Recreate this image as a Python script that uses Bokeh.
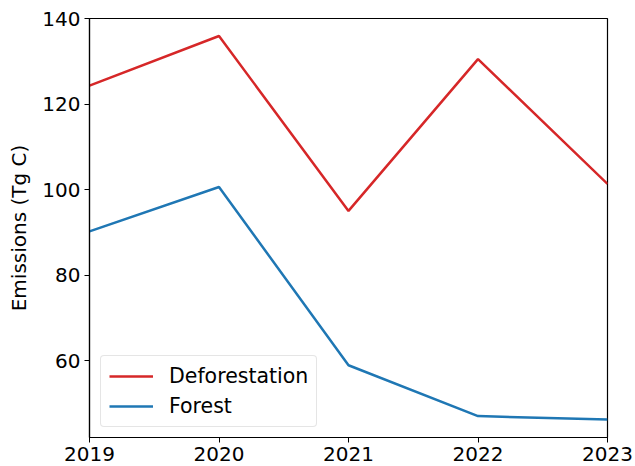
from bokeh.plotting import figure
from bokeh.models import Range1d, FixedTicker, Legend, LegendItem
from bokeh.embed import file_html
from bokeh.resources import INLINE

years = [2019, 2020, 2021, 2022, 2023]
deforestation = [124.3, 135.9, 95.0, 130.5, 101.3]
forest = [90.2, 100.6, 58.9, 47.0, 46.2]
y_ticks = [60, 80, 100, 120, 140]

FONT = "DejaVu Sans"

p = figure(width=635, height=466, output_backend="svg", toolbar_location=None,
           x_range=Range1d(2019, 2023), y_range=Range1d(42, 140),
           min_border_left=89, min_border_right=28, min_border_top=18, min_border_bottom=29)

p.grid.visible = False
p.background_fill_color = "white"
p.border_fill_color = "white"
p.outline_line_color = "black"
p.outline_line_width = 1.2

r1 = p.line(years, deforestation, line_color="#d62728", line_width=2.5)
r2 = p.line(years, forest, line_color="#1f77b4", line_width=2.5)

for ax in (p.xaxis[0], p.yaxis[0]):
    ax.major_label_text_font = FONT
    ax.major_label_text_font_size = "20px"
    ax.major_label_text_color = "black"
    ax.axis_line_color = "black"
    ax.axis_line_width = 1.2
    ax.major_tick_line_color = "black"
    ax.major_tick_out = 5
    ax.major_tick_in = 0
    ax.minor_tick_line_color = None
    ax.major_label_standoff = 4

p.xaxis.ticker = FixedTicker(ticks=years)
p.yaxis.ticker = FixedTicker(ticks=y_ticks)
p.yaxis.axis_label = "Emissions (Tg C)"
p.yaxis.axis_label_text_font = FONT
p.yaxis.axis_label_text_font_size = "20px"
p.yaxis.axis_label_text_font_style = "normal"
p.yaxis.axis_label_text_color = "black"
p.yaxis.axis_label_standoff = 8

legend = Legend(items=[LegendItem(label="Deforestation", renderers=[r1]),
                       LegendItem(label="Forest", renderers=[r2])],
                location=(11, 10))
legend.label_text_font = FONT
legend.label_text_font_size = "20.5px"
legend.label_text_color = "black"
legend.glyph_width = 44
legend.glyph_height = 24
legend.label_height = 24
legend.label_standoff = 16
legend.spacing = 6
legend.padding = 8
legend.margin = 0
legend.border_line_color = "#cccccc"
legend.border_line_width = 1
legend.background_fill_alpha = 0.8
if "border_radius" in Legend.properties():
    legend.border_radius = 4
p.add_layout(legend, "center")

open("out.html", "w").write(file_html(p, INLINE))
